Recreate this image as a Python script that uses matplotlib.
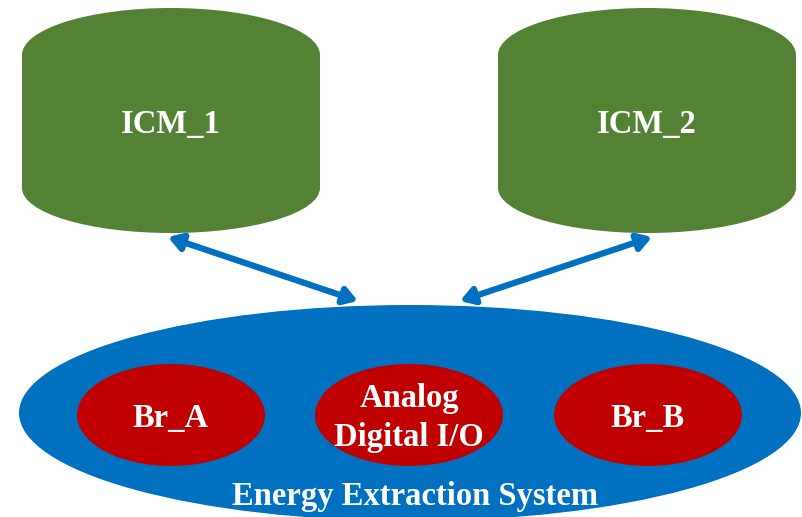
import matplotlib.pyplot as plt
from matplotlib.patches import Ellipse, Rectangle, FancyArrowPatch

# labels of the diagram
cylinder_labels = ["ICM_1", "ICM_2"]
cylinder_centers = [171, 647]
inner_labels = ["Br_A", "Analog\nDigital I/O", "Br_B"]
inner_centers = [171, 409, 648]
outer_label = "Energy Extraction System"

GREEN = "#548235"
BLUE = "#0070C0"
RED = "#C00000"
FONT = dict(family="Liberation Serif", fontweight="bold", color="white", fontsize=23.5)

fig = plt.figure(figsize=(8.02, 5.17), dpi=100)
ax = fig.add_axes([0, 0, 1, 1])
ax.set_xlim(0, 802)
ax.set_ylim(517, 0)
ax.axis("off")

# cylinders (rect + top/bottom ellipses)
cyl_w, top_y, bot_y = 298, 55, 188
for cx, label in zip(cylinder_centers, cylinder_labels):
    ax.add_patch(Rectangle((cx - cyl_w / 2, top_y), cyl_w, bot_y - top_y, color=GREEN, lw=0))
    ax.add_patch(Ellipse((cx, top_y), cyl_w, 94, color=GREEN, lw=0))
    ax.add_patch(Ellipse((cx, bot_y), cyl_w, 90, color=GREEN, lw=0))
    ax.text(cx, 124, label, ha="center", va="center", **FONT)

# big blue ellipse
ax.add_patch(Ellipse((410, 413), 782, 216, color=BLUE, lw=0))

for cx, label in zip(inner_centers, inner_labels):
    ax.add_patch(Ellipse((cx, 415), 188, 102, color=RED, lw=0))
    ax.text(cx, 418, label, ha="center", va="center", linespacing=1.3, **FONT)

ax.text(415, 497, outer_label, ha="center", va="center", **FONT)

# arrows
for (x0, y0), (x1, y1) in [((168, 237), (358, 301)), ((652, 237), (460, 301))]:
    ax.add_patch(FancyArrowPatch((x0, y0), (x1, y1), arrowstyle="<|-|>,head_length=8,head_width=5",
                                 color=BLUE, lw=4.5, shrinkA=0, shrinkB=0, joinstyle="round"))

fig.savefig("out.png", dpi=100)
